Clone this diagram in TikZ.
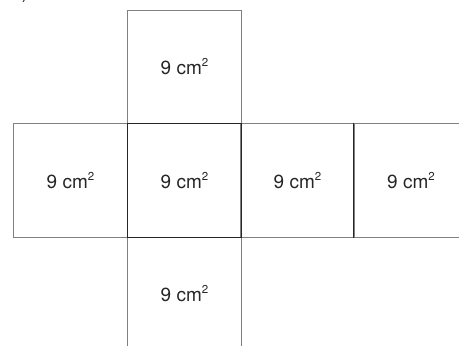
\documentclass[tikz,border=0pt]{standalone}
\usepackage{fontspec}
\setmainfont{TeX Gyre Heros}
\usepackage{tikz}

\newcommand{\areasup}{\raisebox{0.42em}{\fontsize{11.5}{12}\selectfont 2}}
\newcommand{\facelabel}{9 cm\areasup}

\begin{document}
\begin{tikzpicture}[x=1pt, y=-1pt,
  every node/.style={inner sep=0pt},
  face/.style={shape=rectangle, draw=black!50, line width=1.1pt, minimum size=113.5pt,
    text=black!85, font=\fontsize{19}{23}\selectfont},
  darkface/.style={face, draw=black!85}]
\useasboundingbox (0,0) rectangle (459,346);
% fragment of the part label
\node (partlabel) [text=black!85, font=\fontsize{19}{23}\selectfont] at (25,-6) {)};
% the net
\node (top) [face] at (184.5, 67) {\facelabel};
\node (left) [face] at (70.5, 180.5) {\facelabel};
\node (right) [face] at (297.5, 180.5) {\facelabel};
\node (back) [face] at (411, 180.5) {\facelabel};
\node (bottom) [face] at (184.5, 294) {\facelabel};
\node (front) [darkface] at (184.5, 180.5) {\facelabel};
\draw [black!85, line width=1.1pt] (back.north west) -- (back.south west);
\end{tikzpicture}
\end{document}
